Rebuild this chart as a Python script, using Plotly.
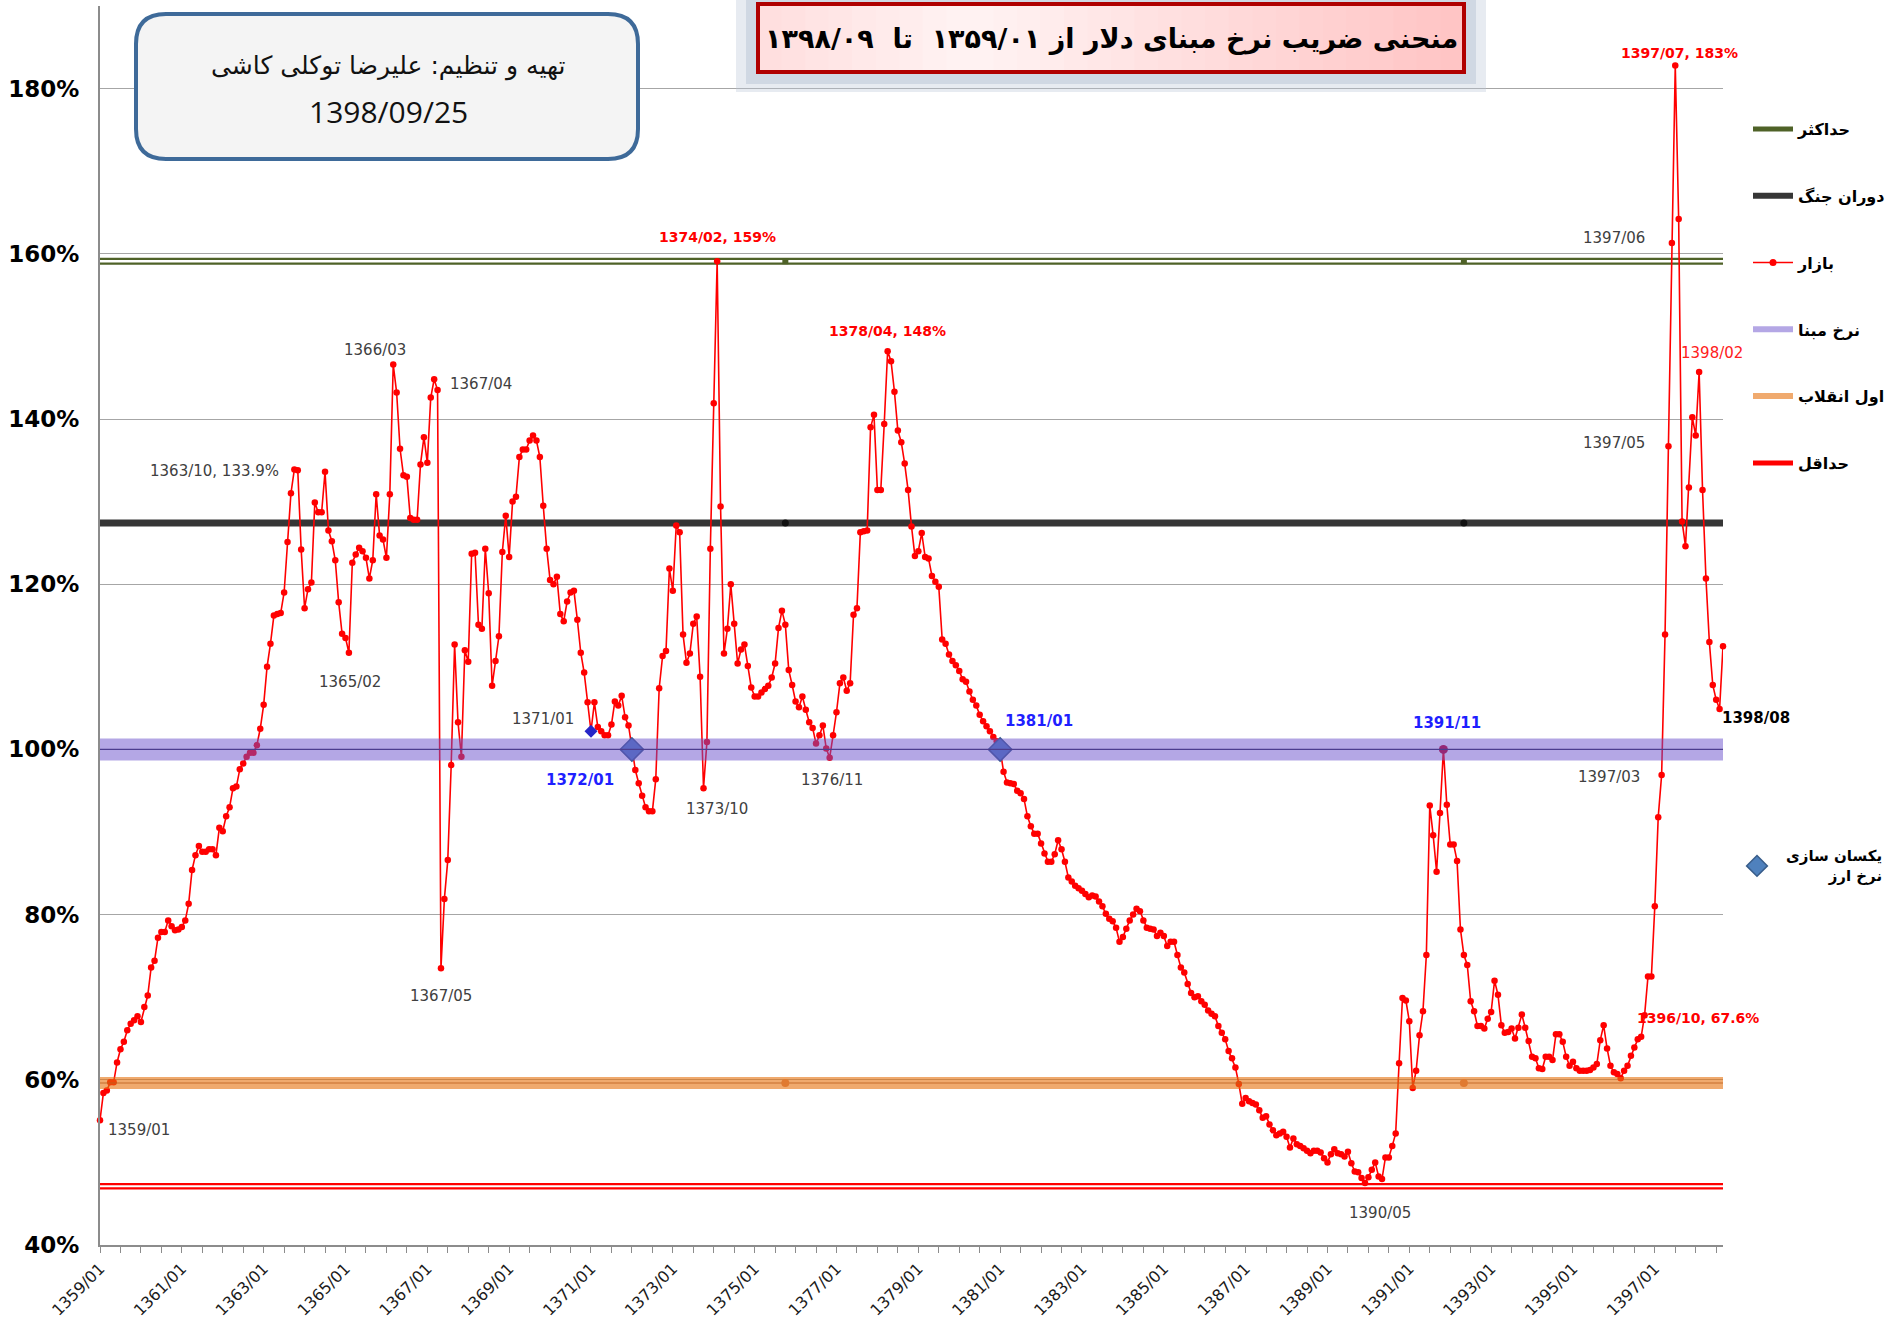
import plotly.graph_objects as go

START_YEAR = 1359

# Market multiplier of the dollar base rate (%), monthly 1359/01 .. 1398/09
market_pct = [
    # 1359
    55.1, 58.4, 58.7, 59.7, 59.7, 62.1, 63.7, 64.6, 66.0, 66.8, 67.2, 67.7,
    # 1360
    67.0, 68.8, 70.2, 73.6, 74.4, 77.2, 77.9, 77.9, 79.3, 78.6, 78.1, 78.2,
    # 1361
    78.5, 79.3, 81.3, 85.4, 87.2, 88.3, 87.6, 87.6, 87.9, 87.9, 87.2, 90.5,
    # 1362
    90.1, 91.9, 93.0, 95.3, 95.5, 97.6, 98.3, 99.1, 99.6, 99.6, 100.5, 102.5,
    # 1363
    105.4, 110.0, 112.8, 116.2, 116.4, 116.5, 119.0, 125.1, 131.0, 133.9, 133.8, 124.2,
    # 1364
    117.1, 119.4, 120.2, 129.9, 128.7, 128.7, 133.6, 126.5, 125.2, 122.9, 117.8, 114.0,
    # 1365
    113.5, 111.7, 122.6, 123.6, 124.4, 124.0, 123.2, 120.7, 122.9, 130.9, 125.9, 125.4,
    # 1366
    123.2, 130.9, 146.6, 143.2, 136.4, 133.2, 133.0, 128.0, 127.8, 127.8, 134.5, 137.8,
    # 1367
    134.7, 142.6, 144.8, 143.5, 73.5, 81.9, 86.6, 98.1, 112.7, 103.3, 99.1, 112.0,
    # 1368
    110.6, 123.7, 123.8, 115.1, 114.6, 124.3, 118.9, 107.7, 110.7, 113.7, 123.9, 128.3,
    # 1369
    123.3, 130.0, 130.6, 135.4, 136.3, 136.3, 137.4, 138.0, 137.4, 135.4, 129.5, 124.3,
    # 1370
    120.5, 120.0, 120.9, 116.4, 115.5, 117.9, 119.0, 119.2, 115.7, 111.7, 109.3, 105.7,
    # 1371
    102.2, 105.7, 102.7, 102.2, 101.7, 101.7, 103.0, 105.8, 105.3, 106.5, 103.9, 102.9,
    # 1372
    100.0, 97.5, 95.9, 94.4, 93.0, 92.5, 92.5, 96.4, 107.4, 111.3, 111.9, 121.9,
    # 1373
    119.2, 127.1, 126.3, 113.9, 110.5, 111.6, 115.2, 116.1, 108.8, 95.3, 100.9, 124.3,
    # 1374
    141.9, 159.1, 129.4, 111.6, 114.6, 120.0, 115.2, 110.4, 112.1, 112.7, 110.1, 107.5,
    # 1375
    106.4, 106.4, 106.9, 107.3, 107.7, 108.7, 110.4, 114.7, 116.8, 115.1, 109.6, 107.8,
    # 1376
    105.8, 105.1, 106.4, 104.8, 103.3, 102.6, 100.7, 101.7, 102.9, 100.1, 99.0, 101.7,
    # 1377
    104.5, 108.0, 108.7, 107.1, 108.0, 116.3, 117.1, 126.3, 126.4, 126.5, 139.0, 140.5,
    # 1378
    131.4, 131.4, 139.4, 148.2, 147.0, 143.3, 138.6, 137.2, 134.6, 131.4, 127.0, 123.4,
    # 1379
    124.0, 126.2, 123.3, 123.1, 121.0, 120.3, 119.7, 113.3, 112.8, 111.5, 110.7, 110.2,
    # 1380
    109.5, 108.5, 108.2, 107.0, 106.0, 105.3, 104.2, 103.4, 102.8, 102.2, 101.5, 101.0,
    # 1381
    100.0, 97.3, 96.0, 95.9, 95.8, 95.0, 94.7, 94.0, 91.9, 90.7, 89.8, 89.8,
    # 1382
    88.6, 87.4, 86.4, 86.4, 87.3, 89.0, 87.9, 86.4, 84.5, 84.0, 83.5, 83.2,
    # 1383
    82.9, 82.5, 82.1, 82.3, 82.2, 81.6, 81.0, 80.1, 79.5, 79.2, 78.4, 76.7,
    # 1384
    77.3, 78.3, 79.3, 80.0, 80.7, 80.4, 79.3, 78.4, 78.3, 78.2, 77.4, 77.8,
    # 1385
    77.4, 76.2, 76.7, 76.7, 75.1, 73.6, 73.0, 71.6, 70.5, 70.0, 70.1, 69.5,
    # 1386
    69.1, 68.4, 68.0, 67.7, 66.5, 65.7, 64.9, 63.5, 62.6, 61.5, 59.5, 57.1,
    # 1387
    57.8, 57.4, 57.2, 57.0, 56.3, 55.4, 55.6, 54.6, 53.9, 53.3, 53.5, 53.7,
    # 1388
    53.1, 51.8, 52.9, 52.2, 52.0, 51.7, 51.4, 51.1, 51.4, 51.4, 51.2, 50.5,
    # 1389
    50.0, 51.0, 51.6, 51.1, 51.0, 50.7, 51.3, 49.9, 48.9, 48.8, 48.1, 47.5,
    # 1390
    48.2, 49.1, 50.0, 48.3, 48.0, 50.6, 50.6, 52.0, 53.5, 62.0, 69.9, 69.6,
    # 1391
    67.1, 59.0, 61.1, 65.4, 68.3, 75.1, 93.2, 89.6, 85.2, 92.3, 100.0, 93.3,
    # 1392
    88.5, 88.5, 86.5, 78.2, 75.1, 73.9, 69.5, 68.3, 66.5, 66.5, 66.2, 67.4,
    # 1393
    68.2, 72.0, 70.3, 66.6, 65.7, 65.8, 66.2, 65.0, 66.3, 67.9, 66.3, 64.7,
    # 1394
    62.8, 62.6, 61.4, 61.3, 62.8, 62.8, 62.4, 65.5, 65.5, 64.6, 62.8, 61.7,
    # 1395
    62.2, 61.4, 61.1, 61.1, 61.1, 61.2, 61.5, 61.9, 64.8, 66.6, 63.8, 61.7,
    # 1396
    60.9, 60.7, 60.2, 61.1, 61.7, 62.9, 63.9, 64.9, 65.2, 67.8, 72.5, 72.5,
    # 1397
    81.0, 91.8, 96.9, 113.9, 136.7, 161.3, 182.8, 164.2, 127.6, 124.6, 131.7, 140.2,
    # 1398
    138.0, 145.7, 131.4, 120.7, 113.0, 107.8, 106.0, 104.9, 112.5,
]

month_labels = [f"{START_YEAR + i // 12}/{i % 12 + 1:02d}" for i in range(len(market_pct))]
x_idx = list(range(len(market_pct)))

# horizontal reference levels (%)
level_max = 159.1        # حداکثر
level_war = 127.4        # دوران جنگ
level_base = 100.0       # نرخ مبنا
level_revolution = 59.6  # اول انقلاب
level_min = 47.1         # حداقل

unification_months = ["1372/01", "1381/01"]   # یکسان سازی نرخ ارز
small_diamond_months = ["1371/01"]
highlight_dot_months = ["1391/11"]
ref_marker_months = ["1375/10", "1392/05"]

y_ticks = [40, 60, 80, 100, 120, 140, 160, 180]
x_tick_labels = [f"{y}/01" for y in range(1359, 1398, 2)]
x_minor_step = 6

legend_names = ["حداکثر", "دوران جنگ", "بازار", "نرخ مبنا", "اول انقلاب", "حداقل"]
unify_lines = ["یکسان سازی", "نرخ ارز"]

title_text = "منحنی ضریب نرخ مبنای دلار از ۱۳۵۹/۰۱\u00a0\u00a0تا\u00a0\u00a0۱۳۹۸/۰۹"
author_text = "تهیه و تنظیم: علیرضا توکلی کاشی"
date_text = "1398/09/25"

# (month, text, style, xshift, yshift)
point_labels = [
    ("1359/01", "1359/01", "gray", 39, -10),
    ("1363/10", "1363/10, 133.9%", "gray", -80, -2),
    ("1365/02", "1365/02", "gray", 1, -29),
    ("1366/03", "1366/03", "gray", -18, 14),
    ("1367/04", "1367/04", "gray", 43, 6),
    ("1367/05", "1367/05", "gray", 0, -28),
    ("1371/01", "1371/01", "gray", -48, 12),
    ("1372/01", "1372/01", "blue", -52, -31),
    ("1373/10", "1373/10", "gray", 13, -21),
    ("1374/02", "1374/02, 159%", "red", 0, 24),
    ("1376/11", "1376/11", "gray", 2, -22),
    ("1378/04", "1378/04, 148%", "red", 0, 20),
    ("1381/01", "1381/01", "blue", 39, 28),
    ("1390/05", "1390/05", "gray", -2, -34),
    ("1391/11", "1391/11", "blue", 4, 26),
    ("1397/06", "1397/06", "gray", -58, 5),
    ("1397/05", "1397/05", "gray", -54, 3),
    ("1397/03", "1397/03", "gray", -53, -2),
    ("1396/10", "1396/10, 67.6%", "red", 53, -3),
    ("1397/07", "1397/07, 183%", "red", 4, 12),
    ("1398/02", "1398/02", "redplain", 13, 19),
    ("1398/08", "1398/08", "black", 36, -9),
]

# ---------------------------------------------------------------- layout geometry
W, H = 1892, 1326
PL, PR, PT, PB = 100, 1723, 6, 1245


def px(x):
    return (x - PL) / (PR - PL)


def py(y):
    return (PB - y) / (PB - PT)


def idx(m):
    return month_labels.index(m)


n = len(market_pct)
x_first, x_last = x_idx[0], x_idx[-1]

fig = go.Figure()


def hline(level, color, width):
    fig.add_trace(go.Scatter(x=[x_first, x_last], y=[level, level], mode="lines",
                             line=dict(color=color, width=width), showlegend=False,
                             hoverinfo="skip"))


# lines under the market series
hline(level_max, "#4F6228", 7)
hline(level_max, "#FFFFFF", 2.5)
hline(level_war, "#363636", 7)
hline(level_min, "#FF0000", 6.5)
hline(level_min, "#FFFFFF", 2)

# small markers on reference lines
rm = [idx(m) for m in ref_marker_months]
fig.add_trace(go.Scatter(x=rm, y=[level_max] * len(rm), mode="markers",
                         marker=dict(symbol="square", size=6, color="#4F6228"),
                         showlegend=False, hoverinfo="skip"))
fig.add_trace(go.Scatter(x=rm, y=[level_war] * len(rm), mode="markers",
                         marker=dict(size=7, color="#111111"),
                         showlegend=False, hoverinfo="skip"))

# market series
fig.add_trace(go.Scatter(x=x_idx, y=market_pct, mode="lines+markers",
                         line=dict(color="#FF0000", width=1.6),
                         marker=dict(size=6.5, color="#FF0000"),
                         customdata=month_labels, cliponaxis=False,
                         hovertemplate="%{customdata}: %{y}%<extra></extra>",
                         showlegend=False))

# special points
hd = [idx(m) for m in highlight_dot_months]
fig.add_trace(go.Scatter(x=hd, y=[market_pct[i] for i in hd], mode="markers",
                         marker=dict(size=9, color="#C00020"), showlegend=False, hoverinfo="skip"))
sd = [idx(m) for m in small_diamond_months]
fig.add_trace(go.Scatter(x=sd, y=[market_pct[i] for i in sd], mode="markers",
                         marker=dict(symbol="diamond", size=10, color="#2626C8"),
                         showlegend=False, hoverinfo="skip"))
ud = [idx(m) for m in unification_months]
fig.add_trace(go.Scatter(x=ud, y=[market_pct[i] for i in ud], mode="markers",
                         marker=dict(symbol="diamond", size=18, color="#4F81BD",
                                     line=dict(color="#385D8A", width=1.5)),
                         name=" ", legend="legend2", showlegend=True,
                         hoverinfo="skip"))

# semi-transparent bands drawn above market series
hline(level_base, "rgba(105,79,203,0.5)", 22)
hline(level_base, "#4B3C8E", 1.2)
hline(level_revolution, "rgba(230,113,13,0.6)", 12)
hline(level_revolution, "rgba(190,95,30,0.55)", 1.5)
fig.add_trace(go.Scatter(x=rm, y=[level_revolution] * len(rm), mode="markers",
                         marker=dict(size=8, color="#E07A30"),
                         showlegend=False, hoverinfo="skip"))

# legend entries
legend_styles = [
    dict(mode="lines", line=dict(color="#4F6228", width=5)),
    dict(mode="lines", line=dict(color="#363636", width=6)),
    dict(mode="lines+markers", line=dict(color="#FF0000", width=1.5), marker=dict(size=7, color="#FF0000")),
    dict(mode="lines", line=dict(color="#B4A7E5", width=6)),
    dict(mode="lines", line=dict(color="#F0AA6E", width=6)),
    dict(mode="lines", line=dict(color="#FF0000", width=5)),
]
for k, (nm, st) in enumerate(zip(legend_names, legend_styles)):
    fig.add_trace(go.Scatter(x=[None], y=[None], name=f"<b>{nm}</b>", legendgroup=f"g{k}",
                             legendrank=k + 1, showlegend=True, **st))

# ---------------------------------------------------------------- annotations
styles = {
    "gray": dict(family="DejaVu Sans", size=15, color="#404040"),
    "blue": dict(family="DejaVu Sans", size=15, color="#1F1FFF"),
    "red": dict(family="DejaVu Sans", size=14, color="#FF0000"),
    "redplain": dict(family="DejaVu Sans", size=15, color="#FF2020"),
    "black": dict(family="DejaVu Sans", size=15, color="#000000"),
}
bold_styles = {"blue", "red", "black"}
annotations = []
for m, txt, st, xs, ys in point_labels:
    i = idx(m)
    t = f"<b>{txt}</b>" if st in bold_styles else txt
    annotations.append(dict(x=x_idx[i], y=market_pct[i], xref="x", yref="y", text=t,
                            showarrow=False, xshift=xs, yshift=ys, font=styles[st],
                            xanchor="center", yanchor="middle"))

# text of the second legend (right aligned, two lines)
annotations.append(dict(xref="paper", yref="paper", x=px(1884), y=py(866),
                        text="<b>" + "<br>".join(unify_lines) + "</b>", showarrow=False,
                        align="right", xanchor="right", yanchor="middle",
                        font=dict(family="DejaVu Sans", size=15, color="black")))

annotations.append(dict(xref="paper", yref="paper", x=px(1111), y=py(39),
                        text=f"<b>{title_text}</b>", showarrow=False,
                        font=dict(family="DejaVu Sans", size=27, color="black"),
                        xanchor="center", yanchor="middle"))
annotations.append(dict(xref="paper", yref="paper", x=px(388), y=py(66),
                        text=author_text, showarrow=False,
                        font=dict(family="DejaVu Sans", size=25, color="#111111"),
                        xanchor="center", yanchor="middle"))
annotations.append(dict(xref="paper", yref="paper", x=px(388), y=py(111),
                        text=date_text, showarrow=False,
                        font=dict(family="Open Sans", size=30, color="#111111"),
                        xanchor="center", yanchor="middle"))

# ---------------------------------------------------------------- shapes
shapes = []
# title shadow
shapes.append(dict(type="rect", xref="paper", yref="paper", x0=px(736), x1=px(1486),
                   y0=py(92), y1=py(0), fillcolor="rgba(185,198,215,0.35)", line_width=0))
shapes.append(dict(type="rect", xref="paper", yref="paper", x0=px(746), x1=px(1476),
                   y0=py(84), y1=py(0), fillcolor="rgba(165,180,200,0.35)", line_width=0))
# title gradient
tx0, tx1, ty0, ty1 = 758, 1464, 4, 72
nstrip = 30


def lerp(a, b, t):
    return a + (b - a) * t


for s in range(nstrip):
    t = (s + 0.5) / nstrip
    if t < 0.3:
        u = t / 0.3
        c = (255, int(lerp(222, 244, u)), int(lerp(222, 244, u)))
    else:
        u = (t - 0.3) / 0.7
        c = (255, int(lerp(244, 196, u)), int(lerp(244, 196, u)))
    xa = tx0 + (tx1 - tx0) * s / nstrip
    xb = tx0 + (tx1 - tx0) * (s + 1) / nstrip + 0.8
    shapes.append(dict(type="rect", xref="paper", yref="paper", x0=px(xa), x1=px(xb),
                       y0=py(ty1), y1=py(ty0), fillcolor=f"rgb{c}", line_width=0))
shapes.append(dict(type="rect", xref="paper", yref="paper", x0=px(tx0), x1=px(tx1),
                   y0=py(ty1), y1=py(ty0), line=dict(color="#B00000", width=4)))

# author rounded box
bx0, bx1, by0, by1, r = 136, 638, 14, 159, 30
X0, X1 = px(bx0), px(bx1)
Yt, Yb = py(by0), py(by1)
rx = r / (PR - PL)
ry = r / (PB - PT)
path = (f"M {X0+rx},{Yt} L {X1-rx},{Yt} Q {X1},{Yt} {X1},{Yt-ry} "
        f"L {X1},{Yb+ry} Q {X1},{Yb} {X1-rx},{Yb} L {X0+rx},{Yb} "
        f"Q {X0},{Yb} {X0},{Yb+ry} L {X0},{Yt-ry} Q {X0},{Yt} {X0+rx},{Yt} Z")
shapes.append(dict(type="path", xref="paper", yref="paper", path=path,
                   fillcolor="#F4F4F4", line=dict(color="#3E6A99", width=4)))

fig.update_layout(
    width=W, height=H, autosize=False, template="none",
    margin=dict(l=PL, r=W - PR, t=PT, b=H - PB, pad=0, autoexpand=False),
    paper_bgcolor="white", plot_bgcolor="white",
    xaxis=dict(range=[x_first, x_last], tickmode="array",
               tickvals=[idx(t) for t in x_tick_labels], ticktext=x_tick_labels,
               tickangle=-45, ticks="outside", ticklen=6, tickwidth=1, tickcolor="#8C8C8C",
               showgrid=False, showline=True, linecolor="#8C8C8C", linewidth=2,
               zeroline=False, automargin=False,
               tickfont=dict(family="DejaVu Sans", size=16, color="#1A1A1A"),
               minor=dict(tickmode="array", tickvals=list(range(0, n, x_minor_step)),
                          ticks="outside", ticklen=6, tickwidth=1, tickcolor="#8C8C8C",
                          showgrid=False)),
    yaxis=dict(range=[40, 190], tickmode="array", tickvals=y_ticks,
               ticktext=[f"<b>{v}%</b>" for v in y_ticks],
               showgrid=True, gridcolor="#A6A6A6", gridwidth=1,
               showline=True, linecolor="#8C8C8C", linewidth=2, ticks="",
               zeroline=False, automargin=False, ticklabelstandoff=14,
               tickfont=dict(family="DejaVu Sans", size=23, color="black")),
    showlegend=True,
    legend=dict(x=px(1748), y=py(112), xanchor="left", yanchor="top",
                font=dict(family="DejaVu Sans", size=16, color="black"),
                bgcolor="rgba(0,0,0,0)", tracegroupgap=43, itemwidth=40,
                traceorder="grouped"),
    legend2=dict(x=px(1737), y=py(866), xanchor="left", yanchor="middle",
                 font=dict(family="DejaVu Sans", size=16, color="black"),
                 bgcolor="rgba(0,0,0,0)", itemwidth=30),
    annotations=annotations,
    shapes=shapes,
    hovermode="closest",
)

fig.write_html("out.html", include_plotlyjs=True, config={"displayModeBar": False},
               post_script="document.body.style.margin='0';document.body.style.overflow='hidden';")
